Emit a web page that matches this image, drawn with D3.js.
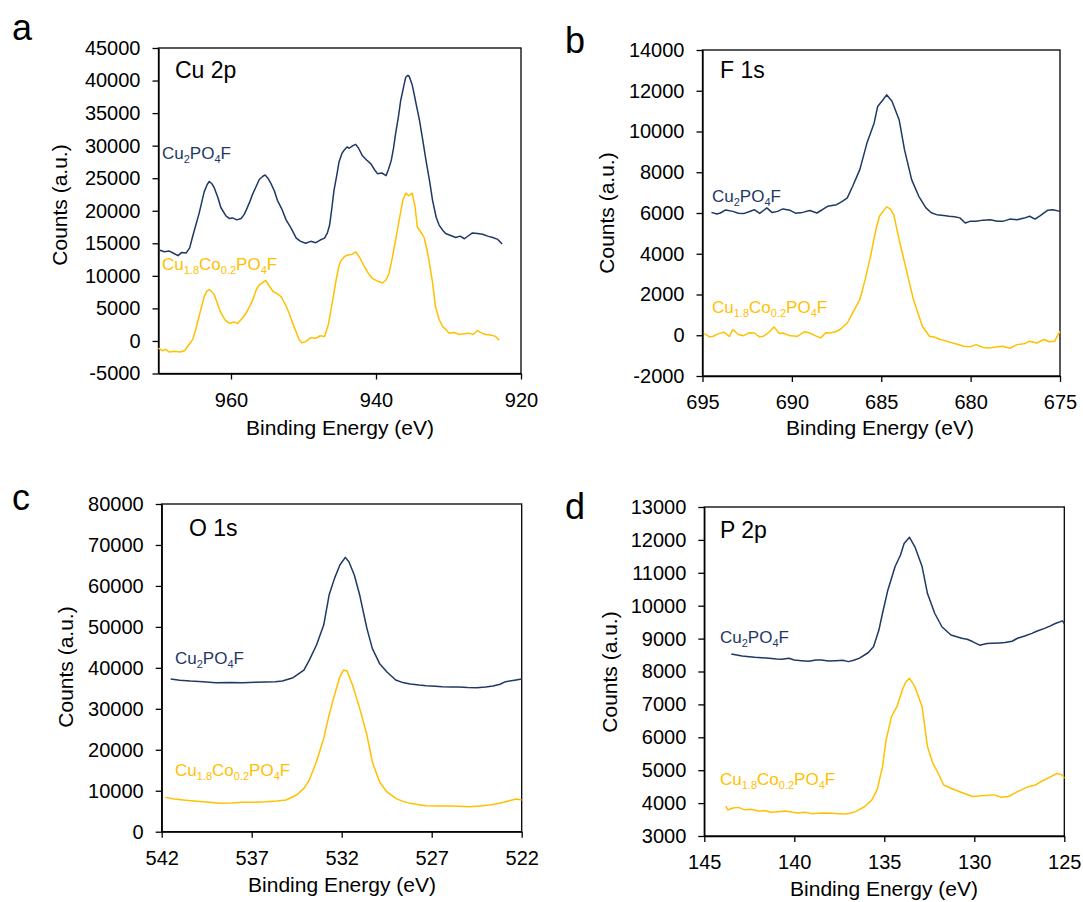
<!DOCTYPE html>
<html><head><meta charset="utf-8">
<script src="https://cdn.jsdelivr.net/npm/d3@7"></script>
<style>
body{margin:0;background:#fff}
text{font-family:"Liberation Sans",Arial,Helvetica,sans-serif}
</style>
</head><body>
<svg id="chart" width="1083" height="902"></svg>
<script>
// ---------------- DATA ----------------
const seriesNames = ["Cu2PO4F", "Cu1.8Co0.2PO4F"];
const panelLetters = ["a", "b", "c", "d"];
const panelTitles = ["Cu 2p", "F 1s", "O 1s", "P 2p"];
const xAxisTitle = "Binding Energy (eV)";
const yAxisTitle = "Counts (a.u.)";

// tick labels
const cuXTicks = [960, 940, 920];
const cuYTicks = [-5000, 0, 5000, 10000, 15000, 20000, 25000, 30000, 35000, 40000, 45000];
const fXTicks = [695, 690, 685, 680, 675];
const fYTicks = [-2000, 0, 2000, 4000, 6000, 8000, 10000, 12000, 14000];
const oXTicks = [542, 537, 532, 527, 522];
const oYTicks = [0, 10000, 20000, 30000, 40000, 50000, 60000, 70000, 80000];
const pXTicks = [145, 140, 135, 130, 125];
const pYTicks = [3000, 4000, 5000, 6000, 7000, 8000, 9000, 10000, 11000, 12000, 13000];

// Cu 2p — Cu2PO4F
const cuBE1 = [970.0,969.2,968.5,967.8,967.3,966.8,966.2,965.7,965.3,964.8,964.4,963.7,963.3,963.0,962.6,962.3,961.8,961.4,960.7,960.2,959.8,959.2,958.6,958.2,957.9,957.4,957.0,956.5,956.1,955.6,955.3,954.9,954.5,954.0,953.6,953.0,952.4,951.7,951.0,950.4,949.7,949.0,948.3,947.7,947.1,946.7,946.4,946.1,945.8,945.4,945.1,944.7,944.4,944.0,943.7,943.2,942.8,942.4,941.9,941.3,940.7,940.2,939.8,939.2,938.6,938.3,937.9,937.6,937.3,936.9,936.6,936.2,935.9,935.6,935.4,935.0,934.7,934.3,934.0,933.5,933.1,932.6,932.2,931.7,931.3,930.8,930.4,929.7,929.0,928.4,927.8,927.2,926.7,926.0,925.3,924.6,923.9,923.2,922.6];
const cuCnt1 = [14000,13700,13800,13400,13100,13600,13500,14300,16000,18000,19600,22900,24000,24500,24100,23500,22000,20500,19200,18800,18900,18600,18800,19400,20100,21400,22600,23800,24800,25300,25500,25000,24200,23000,21600,20300,18600,17300,15800,15300,15000,15300,15100,15500,15800,16600,17800,20300,23100,25500,27500,28800,29300,29800,29600,30000,30200,29600,28500,27800,27200,26300,25700,25800,25400,26300,27700,29500,31800,34500,36900,39000,40500,40800,40600,39300,37700,35500,33900,30500,27700,24500,21600,19000,17800,17000,16500,16200,15900,16100,15700,16200,16600,16500,16400,16100,15900,15600,14900];
// Cu 2p — Cu1.8Co0.2PO4F
const cuBE2 = [970.0,969.5,969.0,968.5,967.8,967.0,966.4,965.9,965.3,964.8,964.4,964.0,963.7,963.3,963.0,962.6,962.3,961.8,961.4,960.8,960.2,959.6,959.1,958.5,957.9,957.4,957.0,956.5,956.1,955.6,955.2,954.7,954.2,953.7,953.1,952.5,952.0,951.3,950.6,950.2,949.7,949.0,948.3,947.7,947.1,946.6,946.2,945.8,945.5,945.1,944.8,944.3,943.9,943.3,942.8,942.2,941.6,941.0,940.5,939.8,939.1,938.6,938.2,937.8,937.3,936.8,936.3,935.9,935.5,935.0,934.6,934.3,933.8,933.4,933.0,932.7,932.2,931.8,931.3,930.8,930.4,929.9,929.2,928.5,927.8,927.2,926.6,926.0,925.4,924.9,924.2,923.5,923.0];
const cuCnt2 = [-1100,-1500,-1300,-1700,-1600,-1700,-1500,-700,200,2000,3800,5500,6800,7700,7900,7500,7100,5500,4300,3200,2700,2900,2700,3400,4300,5400,6300,7900,8600,9000,9300,8400,7600,7300,6800,5600,4300,2200,200,-300,-100,500,400,800,700,2400,4800,7400,9400,11600,12400,13000,13200,13300,13700,12700,11400,10300,9600,9200,8900,9400,10400,12500,15500,18600,21600,22700,22300,22700,20500,17500,16700,16000,14200,12400,9000,5300,3300,2200,1800,1200,1300,1000,1100,1200,1000,1600,1200,1000,900,700,100];

// F 1s — Cu2PO4F
const fBE1 = [694.5,694.2,694.0,693.7,693.3,693.0,692.7,692.4,692.1,691.8,691.4,691.1,690.8,690.5,690.1,689.8,689.4,689.0,688.6,688.3,688.0,687.5,687.2,686.9,686.6,686.2,685.8,685.4,685.2,684.9,684.7,684.4,684.0,683.7,683.3,682.9,682.5,682.2,681.9,681.5,681.2,680.9,680.6,680.3,680.0,679.7,679.3,678.9,678.5,678.2,677.8,677.4,677.0,676.7,676.4,676.1,675.7,675.4,675.0];
const fCnt1 = [6030,5950,6000,6150,6080,5990,5970,6060,6160,5980,6250,6020,6080,6200,6130,5990,6030,6120,6000,6160,6330,6410,6560,6740,7310,8130,9430,10410,11230,11560,11800,11480,10580,9110,7640,6820,6250,6010,5920,5880,5840,5820,5760,5510,5600,5590,5650,5670,5600,5590,5700,5670,5750,5840,5700,5870,6130,6160,6080];
// F 1s — Cu1.8Co0.2PO4F
const fBE2 = [694.9,694.6,694.4,694.1,693.8,693.5,693.3,693.0,692.7,692.4,692.1,691.8,691.6,691.3,691.0,690.7,690.5,690.1,689.7,689.3,689.0,688.7,688.4,688.1,687.9,687.6,687.3,686.9,686.6,686.2,685.9,685.6,685.3,685.1,684.7,684.5,684.3,684.0,683.6,683.2,682.7,682.3,682.0,681.7,681.3,681.0,680.7,680.4,680.0,679.7,679.3,678.9,678.5,678.2,677.8,677.4,677.0,676.7,676.3,675.9,675.6,675.3,675.0];
const fCnt2 = [80,-80,-50,80,150,-60,280,40,-20,120,110,-80,-50,130,410,90,110,-30,-50,170,110,-20,-130,120,110,160,280,600,1100,1750,2730,3870,5180,5840,6300,6200,5920,4690,3220,1750,440,-50,-100,-210,-300,-380,-450,-540,-560,-460,-600,-620,-560,-540,-640,-460,-420,-290,-380,-210,-320,-290,200];

// O 1s — Cu2PO4F
const oBE1 = [541.5,541.0,540.4,539.7,539.0,538.2,537.5,536.8,536.2,535.7,535.3,534.7,534.1,533.8,533.4,533.0,532.7,532.4,532.1,531.8,531.6,531.3,531.0,530.6,530.3,529.9,529.5,529.0,528.6,528.2,527.7,527.3,526.8,526.4,525.9,525.5,525.0,524.5,524.0,523.6,523.2,522.9,522.4,522.0];
const oCnt1 = [37270,37000,36780,36600,36370,36450,36370,36500,36530,36600,36780,37590,39460,41900,45570,50450,57770,61840,65100,66970,65910,62650,57770,49640,44750,41090,39060,37020,36400,36050,35800,35640,35500,35400,35350,35310,35200,35150,35300,35560,36000,36620,37000,37270];
// O 1s — Cu1.8Co0.2PO4F
const oBE2 = [541.8,541.3,540.8,540.2,539.7,539.2,538.8,538.1,537.5,536.8,536.2,535.6,535.1,534.5,534.1,533.8,533.4,533.0,532.7,532.4,532.1,531.9,531.7,531.4,531.0,530.6,530.3,529.9,529.5,529.0,528.6,528.2,527.7,527.3,526.6,526.0,525.5,524.9,524.3,523.8,523.3,522.9,522.3,522.0];
const oCnt2 = [8380,8000,7730,7500,7320,7100,6920,7000,7160,7200,7320,7500,7730,8950,10580,12610,17090,22780,28480,33360,37840,39460,39220,35800,30110,23600,17090,12200,9760,8140,7400,6920,6600,6350,6300,6270,6200,6100,6300,6510,6900,7320,7970,7730];

// P 2p — Cu2PO4F
const pBE1 = [143.5,143.2,142.9,142.5,142.2,141.8,141.4,141.0,140.7,140.3,140.0,139.6,139.2,138.8,138.5,138.1,137.7,137.3,137.0,136.7,136.4,135.9,135.6,135.3,135.1,134.8,134.4,134.1,133.9,133.6,133.3,132.9,132.6,132.2,131.8,131.3,130.7,130.4,130.1,129.7,129.3,129.0,128.6,128.3,127.9,127.6,127.2,126.8,126.5,126.1,125.8,125.5,125.1,125.0];
const pCnt1 = [8530,8500,8470,8450,8430,8420,8400,8380,8370,8400,8350,8330,8310,8350,8350,8320,8330,8340,8300,8340,8400,8570,8750,9260,9770,10480,11190,11540,11890,12080,11790,11190,10370,9770,9360,9110,9010,8980,8910,8800,8850,8860,8870,8880,8920,9010,9080,9160,9230,9310,9380,9460,9540,9460];
// P 2p — Cu1.8Co0.2PO4F
const pBE2 = [143.8,143.7,143.4,143.1,142.8,142.4,142.0,141.6,141.3,140.9,140.5,140.1,139.8,139.4,139.0,138.7,138.3,137.9,137.5,137.2,136.9,136.6,136.1,135.7,135.4,135.1,134.9,134.6,134.3,134.0,133.8,133.6,133.3,132.9,132.6,132.3,132.0,131.7,131.3,130.7,130.1,129.6,128.9,128.5,128.1,127.6,127.0,126.6,126.3,125.7,125.4,125.1,125.0];
const pCnt2 = [3910,3790,3850,3870,3800,3810,3760,3770,3720,3740,3760,3720,3700,3720,3680,3690,3700,3690,3680,3670,3690,3740,3890,4090,4400,5110,5920,6630,6930,7440,7690,7790,7540,6930,5710,5210,4900,4550,4450,4320,4200,4220,4250,4180,4200,4350,4500,4550,4650,4820,4900,4850,4750];

// ---------------- LAYOUT ----------------
const navy = "#1F3864", gold = "#FFC000";
const panels = [
  {letter: panelLetters[0], title: panelTitles[0], xDom: [970, 920], yDom: [-5000, 45000], xTicks: cuXTicks, yTicks: cuYTicks,
   left: 158.5, right: 521, top: 48, bottom: 373.5,
   s: [[cuBE1, cuCnt1], [cuBE2, cuCnt2]],
   letterPos: [12, 40], titlePos: [175, 78], yTitle: [59, 205], xTitle: [340, 435],
   lab: [[162, 159], [162, 270]]},
  {letter: panelLetters[1], title: panelTitles[1], xDom: [695, 675], yDom: [-2000, 14000], xTicks: fXTicks, yTicks: fYTicks,
   left: 702.5, right: 1060, top: 50, bottom: 376,
   s: [[fBE1, fCnt1], [fBE2, fCnt2]],
   letterPos: [565, 53], titlePos: [720, 78], yTitle: [606, 213], xTitle: [880, 435],
   lab: [[712, 202], [712, 313]]},
  {letter: panelLetters[2], title: panelTitles[2], xDom: [542, 522], yDom: [0, 80000], xTicks: oXTicks, yTicks: oYTicks,
   left: 161.7, right: 521.7, top: 504, bottom: 831.7,
   s: [[oBE1, oCnt1], [oBE2, oCnt2]],
   letterPos: [12, 510], titlePos: [189, 536], yTitle: [65, 667], xTitle: [342, 892],
   lab: [[175, 664], [175, 776]]},
  {letter: panelLetters[3], title: panelTitles[3], xDom: [145, 125], yDom: [3000, 13000], xTicks: pXTicks, yTicks: pYTicks,
   left: 704.3, right: 1064.3, top: 507, bottom: 836,
   s: [[pBE1, pCnt1], [pBE2, pCnt2]],
   letterPos: [565, 519], titlePos: [720, 538], yTitle: [609, 672], xTitle: [884, 896],
   lab: [[720, 643], [720, 785]]}
];

const svg = d3.select("#chart");
const fmt = d => String(d);

function formula(sel, str, size, subSize) {
  const parts = str.split(/(\d+(?:\.\d+)?)/).filter(s => s.length);
  let inSub = false;
  parts.forEach(p => {
    const isSub = /^\d/.test(p);
    const t = sel.append("tspan").text(p).attr("font-size", isSub ? subSize : size);
    if (isSub && !inSub) t.attr("dy", 4);
    if (!isSub && inSub) t.attr("dy", -4);
    inSub = isSub;
  });
}

panels.forEach(p => {
  const g = svg.append("g");
  const x = d3.scaleLinear().domain(p.xDom).range([p.left, p.right]);
  const y = d3.scaleLinear().domain(p.yDom).range([p.bottom, p.top]);

  // plot border
  g.append("rect").attr("x", p.left).attr("y", p.top)
    .attr("width", p.right - p.left).attr("height", p.bottom - p.top)
    .attr("fill", "none").attr("stroke", "#000").attr("stroke-width", 1.3);

  const xa = g.append("g").attr("transform", `translate(0,${p.bottom})`)
    .call(d3.axisBottom(x).tickValues(p.xTicks).tickFormat(fmt).tickSize(6).tickPadding(13).tickSizeOuter(0));
  const ya = g.append("g").attr("transform", `translate(${p.left},0)`)
    .call(d3.axisLeft(y).tickValues(p.yTicks).tickFormat(fmt).tickSize(6).tickPadding(12).tickSizeOuter(0));
  [xa, ya].forEach(a => {
    a.selectAll("path,line").attr("stroke", "#000").attr("stroke-width", 1.3);
    a.selectAll("text").attr("font-size", 20).attr("fill", "#000")
      .attr("font-family", '"Liberation Sans",Arial,sans-serif');
  });

  // series lines
  const line = d3.line().x(d => x(d[0])).y(d => y(d[1]));
  p.s.forEach((ser, i) => {
    const pts = ser[0].map((v, k) => [v, ser[1][k]]);
    g.append("path").datum(pts).attr("d", line).attr("fill", "none")
      .attr("stroke", i === 0 ? navy : gold).attr("stroke-width", 1.5)
      .attr("stroke-linejoin", "round");
  });

  // series labels
  p.lab.forEach((pos, i) => {
    const t = g.append("text").attr("x", pos[0]).attr("y", pos[1])
      .attr("fill", i === 0 ? navy : gold);
    formula(t, seriesNames[i], 17, 11);
  });

  // panel title
  g.append("text").attr("x", p.titlePos[0]).attr("y", p.titlePos[1])
    .attr("font-size", 23).attr("fill", "#000").text(p.title);

  // panel letter
  svg.append("text").attr("x", p.letterPos[0]).attr("y", p.letterPos[1])
    .attr("font-size", 36).attr("fill", "#000").text(p.letter);

  // axis titles
  g.append("text").attr("transform", `translate(${p.yTitle[0]},${p.yTitle[1]}) rotate(-90)`)
    .attr("text-anchor", "middle").attr("dominant-baseline", "central")
    .attr("font-size", 21).attr("fill", "#000").text(yAxisTitle);
  g.append("text").attr("x", p.xTitle[0]).attr("y", p.xTitle[1])
    .attr("text-anchor", "middle").attr("font-size", 21).attr("fill", "#000").text(xAxisTitle);
});
</script>
</body></html>
